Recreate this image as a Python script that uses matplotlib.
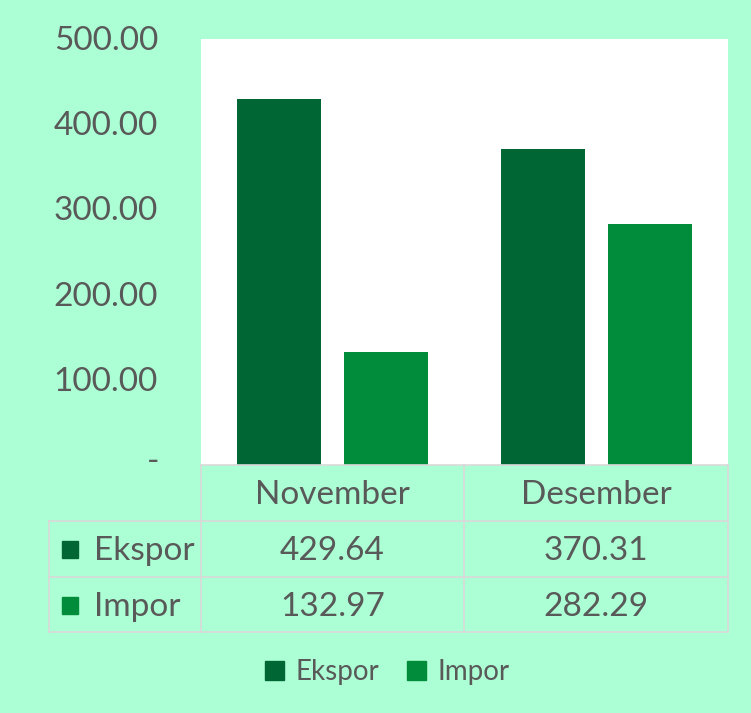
import matplotlib
matplotlib.use("Agg")
import matplotlib.pyplot as plt
from matplotlib.patches import Rectangle
from matplotlib.lines import Line2D

categories = ["November", "Desember"]
series_names = ["Ekspor", "Impor"]
ekspor = [429.64, 370.31]
impor = [132.97, 282.29]
yticks = [0, 100, 200, 300, 400, 500]
ytick_labels = ["-", "100.00", "200.00", "300.00", "400.00", "500.00"]

BG = "#acffd4"
C_EKS = "#006633"
C_IMP = "#008c3a"
TXT = "#595959"
GRID = "#d9d9d9"
FONT = ["Lato", "DejaVu Sans"]

W, H = 751, 713
fig = plt.figure(figsize=(W / 100, H / 100), dpi=100, facecolor=BG)

def fx(px):
    return px / W

def fy(py):
    return 1 - py / H

# plot area
x0, x1, y0, y1 = 201, 728, 39, 465
ax = fig.add_axes([fx(x0), fy(y1), fx(x1) - fx(x0), fy(y0) - fy(y1)])
ax.set_facecolor("white")
xs = list(range(len(categories)))
bw = 0.318
off = 0.2027
ax.bar([x - off for x in xs], ekspor, width=bw, color=C_EKS)
ax.bar([x + off for x in xs], impor, width=bw, color=C_IMP)
ax.set_xlim(-0.5, len(categories) - 0.5)
ax.set_ylim(0, 500)
ax.set_xticks([])
ax.set_yticks([])
for s in ax.spines.values():
    s.set_visible(False)

FS = 24
DY = 2  # small downward text offset in px

# y tick labels
for v, lab in zip(yticks, ytick_labels):
    py = y1 - (y1 - y0) * v / 500
    if lab == "-":
        fig.text(fx(153), fy(py - 3), lab, ha="center", va="center",
                 fontsize=FS, color=TXT, family=FONT)
    else:
        fig.text(fx(158), fy(py + DY), lab, ha="right", va="center",
                 fontsize=FS, color=TXT, family=FONT)

# data table
cols = [49, 201, 464, 728]
rows = [465, 521, 577, 632]
lw = 1.2
def hline(py, xa, xb):
    fig.add_artist(Line2D([fx(xa), fx(xb)], [fy(py), fy(py)], color=GRID, lw=lw))
def vline(px, ya, yb):
    fig.add_artist(Line2D([fx(px), fx(px)], [fy(ya), fy(yb)], color=GRID, lw=lw))

hline(rows[0], cols[1], cols[3])
for r in rows[1:]:
    hline(r, cols[0], cols[3])
vline(cols[0], rows[1], rows[3])
for c in cols[1:]:
    vline(c, rows[0], rows[3])

for i, cat in enumerate(categories):
    cx = (cols[i + 1] + cols[i + 2]) / 2
    fig.text(fx(cx), fy((rows[0] + rows[1]) / 2 + DY), cat, ha="center", va="center",
             fontsize=FS, color=TXT, family=FONT)

data_rows = [ekspor, impor]
colors = [C_EKS, C_IMP]
for r, (name, vals, col) in enumerate(zip(series_names, data_rows, colors)):
    cy = (rows[r + 1] + rows[r + 2]) / 2
    fig.add_artist(Rectangle((fx(62), fy(cy + 9)), fx(16), fy(cy - 8) - fy(cy + 9),
                             color=col, transform=fig.transFigure))
    fig.text(fx(94), fy(cy + DY), name, ha="left", va="center",
             fontsize=FS, color=TXT, family=FONT)
    for i, v in enumerate(vals):
        cx = (cols[i + 1] + cols[i + 2]) / 2
        fig.text(fx(cx), fy(cy + DY), f"{v:.2f}", ha="center", va="center",
                 fontsize=FS, color=TXT, family=FONT)

# legend
handles = [Rectangle((0, 0), 1, 1, color=c) for c in colors]
leg = fig.legend(handles, series_names, loc="center", bbox_to_anchor=(fx(387), fy(672)),
                 ncol=2, frameon=False, prop={"family": FONT, "size": 20},
                 handlelength=0.7, handleheight=0.7, handletextpad=0.4,
                 columnspacing=1.0, labelcolor=TXT)

fig.savefig("out.png", dpi=100, facecolor=BG)
